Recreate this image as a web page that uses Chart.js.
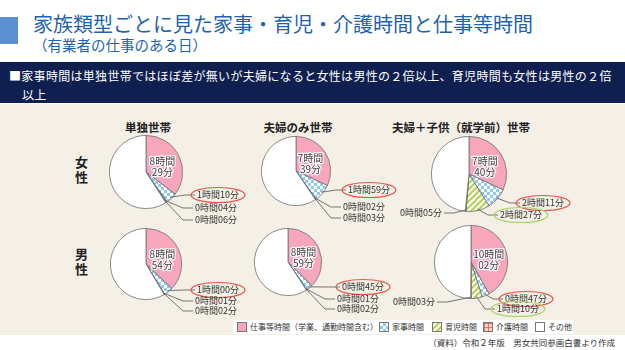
<!DOCTYPE html>
<html>
<head>
<meta charset="utf-8">
<title>家族類型ごとに見た家事・育児・介護時間と仕事等時間</title>
<script src="https://cdn.jsdelivr.net/npm/chart.js@4.4.1/dist/chart.umd.min.js"></script>
<style>
  body { margin: 0; background: #fff; }
  #wrap { position: relative; width: 625px; height: 350px; overflow: hidden; font-family: "Noto Sans CJK JP", sans-serif; }
  .abs { position: absolute; white-space: nowrap; }
  canvas.pie { position: absolute; }
  .hdr { font-weight: bold; font-size: 11.5px; color: #222; transform: translateX(-50%); }
  .row { font-weight: bold; font-size: 13px; color: #222; line-height: 15px; }
  .lg { position: absolute; top: 0; }
  .lg canvas { vertical-align: middle; border: 1px solid #777; margin-right: 3px; position: relative; top: -1px; }
</style>
</head>
<body>
<div id="wrap">
  <div class="abs" style="left:0;top:17px;width:18px;height:27px;background:#5a8fd2"></div>
  <div class="abs" style="left:33px;top:9px;font-size:20px;color:#1f63ad">家族類型ごとに見た家事・育児・介護時間と仕事等時間</div>
  <div class="abs" style="left:33px;top:34px;font-size:14.5px;color:#1f63ad">（有業者の仕事のある日）</div>
  <div class="abs" style="left:0;top:62px;width:625px;height:41px;background:#0f1f50"></div>
  <div class="abs" style="left:9px;top:66px;font-size:12px;color:#fff;letter-spacing:0.3px;line-height:19px">■家事時間は単独世帯ではほぼ差が無いが夫婦になると女性は男性の２倍以上、育児時間も女性は男性の２倍</div>
  <div class="abs" style="left:22px;top:85px;font-size:12px;color:#fff;letter-spacing:0.3px;line-height:19px">以上</div>
  <div class="abs" style="left:0;top:104px;width:625px;height:231px;background:#f4f0e6"></div>

  <div class="abs hdr" style="left:148px;top:119px">単独世帯</div>
  <div class="abs hdr" style="left:298px;top:119px">夫婦のみ世帯</div>
  <div class="abs hdr" style="left:461px;top:119px">夫婦＋子供（就学前）世帯</div>
  <div class="abs row" style="left:75px;top:154px">女<br>性</div>
  <div class="abs row" style="left:75px;top:246px">男<br>性</div>

  <div id="legend" class="abs" style="left:233px;top:320px;width:340px;height:14px;background:#fff;font-size:8px;color:#333;line-height:14px"></div>
  <div class="abs" style="right:10px;top:336px;font-size:8.5px;color:#333">（資料）令和２年版　男女共同参画白書より作成</div>
</div>

<script>
// categories, clockwise from 12 o'clock
const categories = ['仕事等時間（学業、通勤時間含む）', '家事時間', '育児時間', '介護時間', 'その他'];
const households = ['単独世帯', '夫婦のみ世帯', '夫婦＋子供（就学前）世帯'];

// minutes per day (24h = 1440)
const singleWomen = [509, 70, 4, 6, 851];
const coupleWomen = [459, 119, 2, 3, 857];
const familyWomen = [460, 131, 147, 5, 697];
const singleMen = [534, 60, 1, 2, 843];
const coupleMen = [539, 45, 1, 2, 853];
const familyMen = [602, 47, 70, 3, 718];

// pattern fills
function makeTile(w, h, draw) {
  const c = document.createElement('canvas');
  c.width = w; c.height = h;
  draw(c.getContext('2d'));
  return c;
}
const blueTile = makeTile(6, 6, function(g) {
  g.fillStyle = '#8fcbf0'; g.fillRect(0, 0, 6, 6);
  g.fillStyle = '#ffffff'; g.fillRect(0, 0, 3, 3); g.fillRect(3, 3, 3, 3);
});
const greenTile = makeTile(6, 6, function(g) {
  g.fillStyle = '#fbfbef'; g.fillRect(0, 0, 6, 6);
  g.strokeStyle = '#b5d05a'; g.lineWidth = 2;
  g.beginPath();
  g.moveTo(-1, 7); g.lineTo(7, -1);
  g.moveTo(-4, 4); g.lineTo(4, -4);
  g.moveTo(2, 10); g.lineTo(10, 2);
  g.stroke();
});
const redTile = makeTile(4, 4, function(g) {
  g.fillStyle = '#fbd3cc'; g.fillRect(0, 0, 4, 4);
  g.fillStyle = '#ec6f5f'; g.fillRect(0, 0, 4, 1); g.fillRect(0, 0, 1, 4);
});
const tmp = document.createElement('canvas').getContext('2d');
const fills = ['#f8a6bc', tmp.createPattern(blueTile, 'repeat'), tmp.createPattern(greenTile, 'repeat'),
  tmp.createPattern(redTile, 'repeat'), '#ffffff'];

function hm(m, br) {
  const h = Math.floor(m / 60), mm = m % 60;
  return h + '時間' + br + (mm < 10 ? '0' : '') + mm + '分';
}

// label placement: [dx, dy, align, ring] for 家事, 育児, 介護 (ring 1 red, 2 green)
const pies = [
  {data: singleWomen, cx: 146, cy: 172, r: 37, labels: [[51, 23, 'l', 1], [49, 36, 'l', 0], [49, 48, 'l', 0]]},
  {data: coupleWomen, cx: 296, cy: 171, r: 35, labels: [[52, 19, 'l', 1], [47, 36, 'l', 0], [47, 47, 'l', 0]]},
  {data: familyWomen, cx: 469, cy: 174, r: 38, labels: [[53, 29, 'l', 1], [31, 41, 'l', 2], [-27, 39, 'r', 0]]},
  {data: singleMen, cx: 146, cy: 264, r: 36, labels: [[51, 26, 'l', 1], [49, 37, 'l', 0], [49, 47, 'l', 0]]},
  {data: coupleMen, cx: 288, cy: 262, r: 34, labels: [[54, 25, 'l', 1], [49, 37, 'l', 0], [49, 47, 'l', 0]]},
  {data: familyMen, cx: 471, cy: 262, r: 37, labels: [[34, 37, 'l', 1], [26, 47, 'l', 2], [-36, 40, 'r', 0]]}
];

const pieLabels = {
  id: 'pieLabels',
  afterDatasetsDraw(chart, args, opts) {
    const ctx = chart.ctx;
    const meta = chart.getDatasetMeta(0);
    const vals = chart.data.datasets[0].data;
    ctx.save();
    // work time inside the pink slice
    const p = meta.data[0].tooltipPosition();
    ctx.font = '10px "Noto Sans CJK JP"';
    ctx.textAlign = 'center';
    ctx.textBaseline = 'middle';
    ctx.lineJoin = 'round';
    const lines = hm(vals[0], '\n').split('\n');
    lines.forEach(function(t, i) {
      const y = p.y - 3 + i * 11;
      ctx.strokeStyle = 'rgba(255,255,255,0.9)'; ctx.lineWidth = 2.5;
      ctx.strokeText(t, p.x, y);
      ctx.fillStyle = '#444'; ctx.fillText(t, p.x, y);
    });
    // outside labels with leader lines
    ctx.font = '9px "Noto Sans CJK JP"';
    opts.labels.forEach(function(l, k) {
      const arc = meta.data[k + 1];
      const mid = (arc.startAngle + arc.endAngle) / 2;
      const ex = arc.x + Math.cos(mid) * arc.outerRadius * 0.96;
      const ey = arc.y + Math.sin(mid) * arc.outerRadius * 0.96;
      const lx = arc.x + l[0], ly = arc.y + l[1];
      const right = l[2] === 'r';
      const text = hm(vals[k + 1], '');
      const w = ctx.measureText(text).width;
      ctx.strokeStyle = '#555'; ctx.lineWidth = 0.8;
      ctx.beginPath();
      ctx.moveTo(ex, ey);
      ctx.lineTo(right ? lx + 12 : lx - 12, ly);
      ctx.lineTo(right ? lx + 2 : lx - 2, ly);
      ctx.stroke();
      ctx.fillStyle = '#333';
      ctx.textAlign = right ? 'right' : 'left';
      ctx.fillText(text, lx, ly);
      if (l[3]) {
        ctx.strokeStyle = l[3] === 1 ? '#e8564b' : '#a9d26c';
        ctx.lineWidth = 1.2;
        ctx.beginPath();
        ctx.ellipse(right ? lx - w / 2 : lx + w / 2, ly, w / 2 + 6, 7.5, 0, 0, Math.PI * 2);
        ctx.stroke();
      }
    });
    ctx.restore();
  }
};

const wrap = document.getElementById('wrap');
pies.forEach(function(pc) {
  const left = 90, right = 110, top = 45, bottom = 60;
  const cv = document.createElement('canvas');
  cv.className = 'pie';
  cv.width = left + right; cv.height = top + bottom;
  cv.style.left = (pc.cx - left) + 'px';
  cv.style.top = (pc.cy - top) + 'px';
  wrap.appendChild(cv);
  new Chart(cv, {
    type: 'pie',
    data: {
      labels: categories,
      datasets: [{data: pc.data, backgroundColor: fills, borderColor: '#6f6f6f', borderWidth: 0.8}]
    },
    options: {
      responsive: false,
      animation: false,
      devicePixelRatio: 1,
      events: [],
      layout: {padding: {left: left - pc.r, right: right - pc.r, top: top - pc.r, bottom: bottom - pc.r}},
      plugins: {legend: {display: false}, tooltip: {enabled: false}, pieLabels: {labels: pc.labels}}
    },
    plugins: [pieLabels]
  });
});

// legend, items placed like the original
const legend = document.getElementById('legend');
const tiles = ['#f8a6bc', blueTile, greenTile, redTile, '#ffffff'];
const legendX = [4, 146, 199, 250, 302];
categories.forEach(function(name, i) {
  const span = document.createElement('span');
  span.className = 'lg';
  span.style.left = legendX[i] + 'px';
  const sw = document.createElement('canvas');
  sw.width = 8; sw.height = 8;
  const g = sw.getContext('2d');
  g.fillStyle = typeof tiles[i] === 'string' ? tiles[i] : g.createPattern(tiles[i], 'repeat');
  g.fillRect(0, 0, 8, 8);
  span.appendChild(sw);
  span.appendChild(document.createTextNode(name));
  legend.appendChild(span);
});
</script>
</body>
</html>
